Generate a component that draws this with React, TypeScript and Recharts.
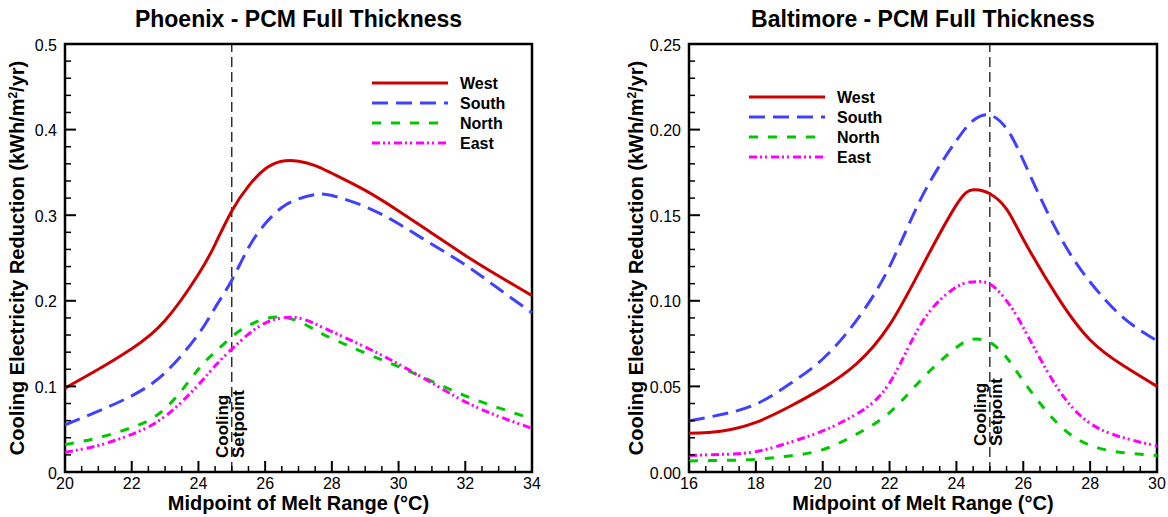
import React from 'react';
import { LineChart, Line, XAxis, YAxis, ReferenceLine, ReferenceArea, Legend } from 'recharts';

const FONT = '"Liberation Sans", Arial, Helvetica, sans-serif';

// Phoenix - melt range midpoint (°C) and cooling electricity reduction (kWh/m2/yr)
const phoenixMelt = [20, 21, 22, 23, 24, 24.5, 25, 25.5, 26, 26.5, 27, 27.5, 28, 29, 30, 31, 32, 33, 34];
const phoenixWest = [0.098, 0.12, 0.144, 0.177, 0.231, 0.266, 0.305, 0.334, 0.354, 0.363, 0.363, 0.358, 0.349, 0.329, 0.305, 0.279, 0.253, 0.229, 0.206];
const phoenixSouth = [0.055, 0.071, 0.089, 0.116, 0.161, 0.192, 0.224, 0.262, 0.29, 0.309, 0.319, 0.324, 0.323, 0.31, 0.29, 0.266, 0.242, 0.214, 0.186];
const phoenixNorth = [0.032, 0.04, 0.052, 0.074, 0.12, 0.14, 0.158, 0.171, 0.179, 0.181, 0.176, 0.166, 0.156, 0.139, 0.123, 0.106, 0.089, 0.075, 0.062];
const phoenixEast = [0.023, 0.031, 0.044, 0.065, 0.102, 0.124, 0.1435, 0.161, 0.174, 0.18, 0.18, 0.173, 0.164, 0.146, 0.126, 0.104, 0.082, 0.065, 0.051];
const phoenixXTicks = [20, 22, 24, 26, 28, 30, 32, 34];
const phoenixYTicks = [0, 0.1, 0.2, 0.3, 0.4, 0.5];
const phoenixYLabels = ['0', '0.1', '0.2', '0.3', '0.4', '0.5'];

// Baltimore
const baltimoreMelt = [16, 17, 18, 19, 20, 21, 22, 23, 24, 24.5, 25, 25.5, 26, 27, 28, 29, 30];
const baltimoreWest = [0.0226, 0.024, 0.029, 0.0381, 0.049, 0.063, 0.0859, 0.121, 0.156, 0.1648, 0.1625, 0.1535, 0.136, 0.103, 0.0771, 0.062, 0.05];
const baltimoreSouth = [0.0298, 0.0337, 0.0396, 0.0513, 0.066, 0.0883, 0.12, 0.162, 0.1936, 0.2053, 0.2085, 0.2005, 0.182, 0.141, 0.111, 0.09, 0.0766];
const baltimoreNorth = [0.0064, 0.0068, 0.0074, 0.0094, 0.013, 0.022, 0.0347, 0.055, 0.0727, 0.0776, 0.0757, 0.0669, 0.0532, 0.0289, 0.0156, 0.0113, 0.0097];
const baltimoreEast = [0.0097, 0.0103, 0.0119, 0.0172, 0.024, 0.0337, 0.052, 0.0883, 0.108, 0.111, 0.1098, 0.1, 0.0844, 0.0498, 0.0284, 0.02, 0.0152];
const baltimoreXTicks = [16, 18, 20, 22, 24, 26, 28, 30];
const baltimoreYTicks = [0, 0.05, 0.1, 0.15, 0.2, 0.25];
const baltimoreYLabels = ['0.00', '0.05', '0.10', '0.15', '0.20', '0.25'];

const SETPOINT = 25;

const series = [
  { key: 'west', name: 'West', color: '#cc0000', dash: undefined },
  { key: 'south', name: 'South', color: '#4040ff', dash: '16 8' },
  { key: 'north', name: 'North', color: '#00c800', dash: '9 10' },
  { key: 'east', name: 'East', color: '#ff00ff', dash: '8 3 2 3 2 4' },
];

const toRows = (melt: number[], west: number[], south: number[], north: number[], east: number[]) =>
  melt.map((x, i) => ({ x, west: west[i], south: south[i], north: north[i], east: east[i] }));

// minor tick positions between the labelled ones
const steps = (from: number, to: number, step: number) => {
  const n = Math.round((to - from) / step);
  return Array.from({ length: n + 1 }, (_, i) => +(from + i * step).toFixed(4));
};

const isMajor = (majors: number[], v: number) => majors.findIndex((m) => Math.abs(m - v) < 1e-6);

const makeXTick = (majors: number[]) => (props: any) => {
  const { x, y, payload } = props;
  const idx = isMajor(majors, payload.value);
  return (
    <g>
      <line x1={x} x2={x} y1={y} y2={y - (idx >= 0 ? 11 : 6)} stroke="#000" strokeWidth={idx >= 0 ? 2 : 1.5} />
      {idx >= 0 && (
        <text x={x} y={y + 17} textAnchor="middle" fontSize={16} fontFamily={FONT} fill="#000">
          {majors[idx]}
        </text>
      )}
    </g>
  );
};

const makeYTick = (majors: number[], labels: string[]) => (props: any) => {
  const { x, y, payload } = props;
  const idx = isMajor(majors, payload.value);
  return (
    <g>
      <line x1={x} x2={x + (idx >= 0 ? 11 : 6)} y1={y} y2={y} stroke="#000" strokeWidth={idx >= 0 ? 2 : 1.5} />
      {idx >= 0 && (
        <text x={x - 8} y={y + 1} dy="0.35em" textAnchor="end" fontSize={16} fontFamily={FONT} fill="#000">
          {labels[idx]}
        </text>
      )}
    </g>
  );
};

type ChartProps = {
  title: string;
  rows: any[];
  xMajors: number[];
  yMajors: number[];
  yLabels: string[];
  xMinorStep: number;
  yMinorStep: number;
  left: number;
  yAxisWidth: number;
  marginRight: number;
  legendLeft: number;
  legendTop: number;
  yLabelX: number;
  setpointLift: number;
};

const MeltChart = (p: ChartProps) => {
  const xMin = p.xMajors[0];
  const xMax = p.xMajors[p.xMajors.length - 1];
  const yMax = p.yMajors[p.yMajors.length - 1];
  const plotWidth = 584 - p.yAxisWidth - p.marginRight;

  return (
    <div style={{ position: 'absolute', left: p.left, top: 0, width: 584, height: 517 }}>
      <div
        style={{
          position: 'absolute',
          left: p.yAxisWidth,
          width: plotWidth,
          top: 5,
          textAlign: 'center',
          fontFamily: FONT,
          fontWeight: 'bold',
          fontSize: 23,
          lineHeight: '28px',
          zIndex: 2,
        }}
      >
        {p.title}
      </div>
      <LineChart width={584} height={517} data={p.rows} margin={{ top: 44, right: p.marginRight, bottom: 0, left: 0 }}>
        <XAxis
          type="number"
          dataKey="x"
          domain={[xMin, xMax]}
          ticks={steps(xMin, xMax, p.xMinorStep)}
          interval={0}
          height={45}
          axisLine={false}
          tickLine={false}
          tickSize={0}
          tickMargin={0}
          tick={makeXTick(p.xMajors)}
          label={(lp: any) => {
            const vb = lp.viewBox;
            return (
              <text x={vb.x + vb.width / 2} y={vb.y + 38} textAnchor="middle" fontFamily={FONT} fontWeight="bold" fontSize={20} fill="#000">
                Midpoint of Melt Range (°C)
              </text>
            );
          }}
        />
        <YAxis
          type="number"
          domain={[0, yMax]}
          ticks={steps(0, yMax, p.yMinorStep)}
          interval={0}
          width={p.yAxisWidth}
          axisLine={false}
          tickLine={false}
          tickSize={0}
          tickMargin={0}
          tick={makeYTick(p.yMajors, p.yLabels)}
          label={(lp: any) => {
            const vb = lp.viewBox;
            const cx = vb.x + p.yLabelX;
            const cy = vb.y + vb.height / 2;
            return (
              <text x={cx} y={cy} transform={`rotate(-90 ${cx} ${cy})`} textAnchor="middle" fontFamily={FONT} fontWeight="bold" fontSize={20} fill="#000">
                <tspan>Cooling Electricity Reduction (kWh/m</tspan>
                <tspan dy={-7} fontSize={12}>2</tspan>
                <tspan dy={7}>/yr)</tspan>
              </text>
            );
          }}
        />
        <ReferenceLine
          x={SETPOINT}
          stroke="#000"
          strokeWidth={1.2}
          strokeDasharray="10 5"
          label={(lp: any) => {
            const vb = lp.viewBox;
            const bottom = vb.y + vb.height - p.setpointLift;
            const a = vb.x - 4;
            const b = vb.x + 12;
            return (
              <g fontFamily={FONT} fontWeight="bold" fontSize={17} fill="#000">
                <text x={a} y={bottom} transform={`rotate(-90 ${a} ${bottom})`}>Cooling</text>
                <text x={b} y={bottom} transform={`rotate(-90 ${b} ${bottom})`}>Setpoint</text>
              </g>
            );
          }}
        />
        {series.map((s) => (
          <Line
            key={s.key}
            type="natural"
            dataKey={s.key}
            name={s.name}
            stroke={s.color}
            strokeWidth={3}
            strokeDasharray={s.dash}
            dot={false}
            activeDot={false}
            isAnimationActive={false}
          />
        ))}
        <ReferenceArea x1={xMin} x2={xMax} y1={0} y2={yMax} fill="none" stroke="#000" strokeWidth={2.5} />
        <Legend
          layout="horizontal"
          verticalAlign="middle"
          align="center"
          wrapperStyle={{ left: p.legendLeft, top: p.legendTop, width: 170, height: 80 }}
          content={() => (
            <svg width={170} height={80}>
              {series.map((s, i) => (
                <g key={s.key}>
                  <line x1={0} x2={76} y1={10 + i * 20} y2={10 + i * 20} stroke={s.color} strokeWidth={3} strokeDasharray={s.dash} />
                  <text x={88} y={10 + i * 20} dy="0.35em" fontFamily={FONT} fontWeight="bold" fontSize={16} fill="#000">
                    {s.name}
                  </text>
                </g>
              ))}
            </svg>
          )}
        />
      </LineChart>
    </div>
  );
}

export default function App() {
  return (
    <div style={{ position: 'absolute', left: 0, top: 0, width: 1168, height: 517, background: '#fff' }}>
      <MeltChart
        title="Phoenix - PCM Full Thickness"
        rows={toRows(phoenixMelt, phoenixWest, phoenixSouth, phoenixNorth, phoenixEast)}
        xMajors={phoenixXTicks}
        yMajors={phoenixYTicks}
        yLabels={phoenixYLabels}
        xMinorStep={0.5}
        yMinorStep={0.02}
        left={0}
        yAxisWidth={65}
        marginRight={52}
        legendLeft={372}
        legendTop={73}
        yLabelX={24}
        setpointLift={14}
      />
      <MeltChart
        title="Baltimore - PCM Full Thickness"
        rows={toRows(baltimoreMelt, baltimoreWest, baltimoreSouth, baltimoreNorth, baltimoreEast)}
        xMajors={baltimoreXTicks}
        yMajors={baltimoreYTicks}
        yLabels={baltimoreYLabels}
        xMinorStep={0.5}
        yMinorStep={0.01}
        left={584}
        yAxisWidth={105}
        marginRight={11}
        legendLeft={165}
        legendTop={87}
        yLabelX={59}
        setpointLift={26}
      />
    </div>
  );
}
